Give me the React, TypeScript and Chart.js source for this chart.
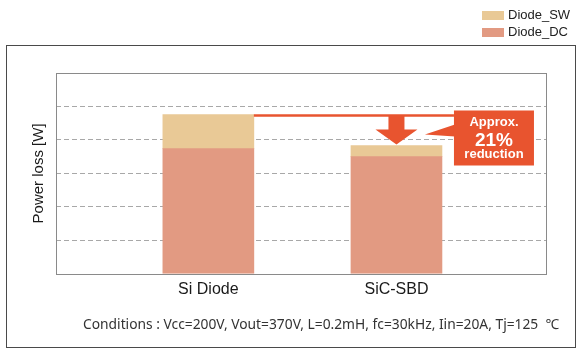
import React, { useEffect, useRef } from "react";
import { Chart, registerables } from "chart.js";

Chart.register(...registerables);

const categories = ["Si Diode", "SiC-SBD"];
const categoryPositions = [0, 1];
const diodeDC = [3.74, 3.5];
const diodeSW = [1.02, 0.33];
const yTicks = [0, 1, 2, 3, 4, 5, 6];
const seriesNames = ["Diode_DC", "Diode_SW"];
const seriesColors = ["#E29A82", "#E9C996"];
const annotationLines = ["Approx.", "21%", "reduction"];
const conditionsText =
  "Conditions : Vcc=200V, Vout=370V, L=0.2mH, fc=30kHz, Iin=20A, Tj=125  ℃";

const RED = "#E8542F";
const ARIAL = "'Liberation Sans', Arial, sans-serif";

const decorPlugin = {
  id: "decor",
  beforeDraw(chart: any) {
    const { ctx, width, height } = chart;
    ctx.save();
    ctx.fillStyle = "#ffffff";
    ctx.fillRect(0, 0, width, height);
    ctx.strokeStyle = "#4a4a4a";
    ctx.lineWidth = 1;
    ctx.strokeRect(6.5, 45.5, 569, 302);
    ctx.restore();
  },
  afterDatasetsDraw(chart: any) {
    const { ctx, chartArea } = chart;
    ctx.save();
    // plot border
    ctx.strokeStyle = "#8a8a8a";
    ctx.lineWidth = 1;
    ctx.strokeRect(
      Math.round(chartArea.left) + 0.5,
      Math.round(chartArea.top) + 0.5,
      Math.round(chartArea.right - chartArea.left),
      Math.round(chartArea.bottom - chartArea.top)
    );

    const top = chart.getDatasetMeta(1);
    const si = top.data[0];
    const sic = top.data[1];
    if (!si || !sic) {
      ctx.restore();
      return;
    }
    const w = si.width;
    const lineY = si.y + 1;
    const boxLeft = sic.x + w / 2 + 12;
    const boxW = 80;
    const boxH = 55;
    const boxTop = lineY - 5;

    ctx.fillStyle = RED;
    ctx.strokeStyle = RED;
    // horizontal line
    ctx.lineWidth = 2.5;
    ctx.beginPath();
    ctx.moveTo(si.x + w / 2, lineY);
    ctx.lineTo(boxLeft, lineY);
    ctx.stroke();

    // arrow
    const cx = sic.x;
    const tipY = sic.y - 1;
    const headTop = tipY - 15;
    ctx.beginPath();
    ctx.moveTo(cx - 8, lineY);
    ctx.lineTo(cx + 8, lineY);
    ctx.lineTo(cx + 8, headTop);
    ctx.lineTo(cx + 21, headTop);
    ctx.lineTo(cx, tipY);
    ctx.lineTo(cx - 21, headTop);
    ctx.lineTo(cx - 8, headTop);
    ctx.closePath();
    ctx.fill();

    // callout wedge
    ctx.beginPath();
    ctx.moveTo(boxLeft + 1, lineY + 9);
    ctx.lineTo(boxLeft - 29, lineY + 19);
    ctx.lineTo(boxLeft + 1, lineY + 21);
    ctx.closePath();
    ctx.fill();

    // box
    ctx.fillRect(boxLeft, boxTop, boxW, boxH);

    ctx.fillStyle = "#ffffff";
    ctx.textAlign = "center";
    ctx.textBaseline = "middle";
    const tx = boxLeft + boxW / 2;
    ctx.font = `bold 13px ${ARIAL}`;
    ctx.fillText(annotationLines[0], tx, boxTop + 12);
    ctx.font = `bold 19px ${ARIAL}`;
    ctx.fillText(annotationLines[1], tx, boxTop + 30);
    ctx.font = `bold 13px ${ARIAL}`;
    ctx.fillText(annotationLines[2], tx, boxTop + 44);
    ctx.restore();
  },
  afterDraw(chart: any) {
    const { ctx } = chart;
    ctx.save();
    // legend (top series first)
    const order = [1, 0];
    order.forEach((di, i) => {
      const ds = chart.data.datasets[di];
      const y = 15 + i * 17;
      ctx.fillStyle = ds.backgroundColor;
      ctx.fillRect(482, y - 4, 22, 9);
      ctx.fillStyle = "#222222";
      ctx.font = `13px ${ARIAL}`;
      ctx.textAlign = "left";
      ctx.textBaseline = "middle";
      ctx.fillText(ds.label, 508, y + 0.5);
    });
    // conditions
    ctx.fillStyle = "#333333";
    ctx.font = `13.8px 'Noto Sans', 'Open Sans', sans-serif`;
    ctx.textAlign = "left";
    ctx.textBaseline = "middle";
    ctx.fillText(conditionsText, 83, 325);
    ctx.restore();
  },
};

export default function App() {
  const ref = useRef<HTMLCanvasElement | null>(null);

  useEffect(() => {
    document.body.style.margin = "0";
    const canvas = ref.current;
    if (!canvas) return;
    const chart = new Chart(canvas, {
      type: "bar",
      data: {
        datasets: [
          {
            label: seriesNames[0],
            data: categoryPositions.map((x, i) => ({ x, y: diodeDC[i] })),
            backgroundColor: seriesColors[0],
            barThickness: 91,
          },
          {
            label: seriesNames[1],
            data: categoryPositions.map((x, i) => ({ x, y: diodeSW[i] })),
            backgroundColor: seriesColors[1],
            barThickness: 91,
          },
        ],
      },
      options: {
        animation: false,
        responsive: false,
        maintainAspectRatio: false,
        layout: { padding: { left: 30, top: 73, right: 34, bottom: 47 } },
        plugins: {
          legend: { display: false },
          tooltip: { enabled: false },
        },
        scales: {
          x: {
            type: "linear",
            stacked: true,
            offset: false,
            min: -0.81,
            max: 1.795,
            afterBuildTicks: (scale: any) => {
              scale.ticks = categoryPositions.map((v) => ({ value: v }));
            },
            ticks: {
              autoSkip: false,
              maxRotation: 0,
              padding: 6,
              color: "#1a1a1a",
              font: { family: ARIAL, size: 16 },
              callback: (v: any) => categories[categoryPositions.indexOf(Number(v))] ?? "",
            },
            grid: { display: false, drawTicks: false },
            border: { display: false },
          },
          y: {
            stacked: true,
            min: 0,
            max: 6,
            afterBuildTicks: (scale: any) => {
              scale.ticks = yTicks.map((v) => ({ value: v }));
            },
            ticks: { display: false },
            grid: {
              drawTicks: false,
              lineWidth: 1,
              color: (ctx: any) =>
                ctx.tick && (ctx.tick.value === 0 || ctx.tick.value === 6)
                  ? "rgba(0,0,0,0)"
                  : "#a8a8a8",
            },
            border: { display: false, dash: [5, 3] },
            title: {
              display: true,
              text: "Power loss [W]",
              color: "#1a1a1a",
              font: { family: ARIAL, size: 15 },
              padding: { top: 0, bottom: 8 },
            },
          },
        },
      },
      plugins: [decorPlugin],
    } as any);
    return () => chart.destroy();
  }, []);

  return (
    <div style={{ width: 580, height: 352 }}>
      <canvas ref={ref} width={580} height={352} style={{ display: "block" }} />
    </div>
  );
}
